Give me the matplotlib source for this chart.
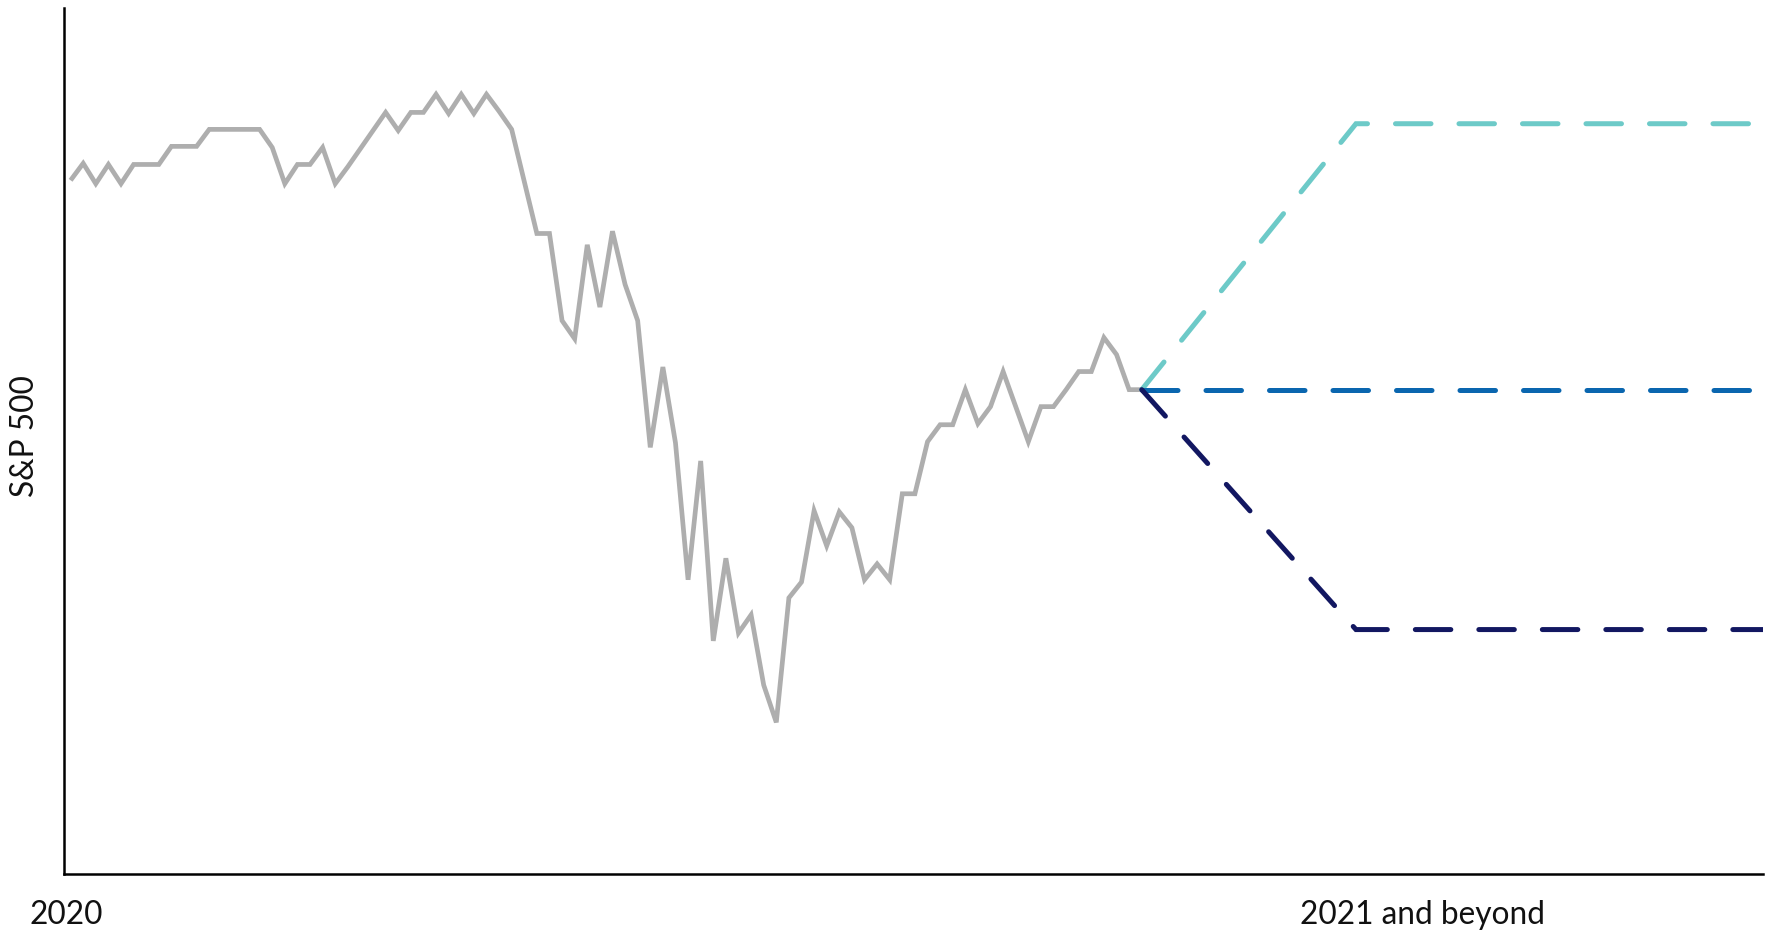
import matplotlib
matplotlib.use("Agg")
import matplotlib.pyplot as plt
import numpy as np

plt.rcParams['font.family'] = ['Lato', 'DejaVu Sans']

# ---- data (relative S&P 500 level) ----
history_y = [613, 628, 610, 627, 610, 627, 627, 627, 643, 643,
             643, 658, 658, 658, 658, 658, 642, 610, 627, 627,
             642, 610, 625, 641, 657, 673, 657, 673, 673, 689,
             672, 689, 672, 689, 674, 658, 612, 566, 566, 489,
             473, 556, 501, 568, 521, 489, 377, 448, 381, 260,
             365, 206, 279, 213, 229, 167, 134, 244, 258, 321,
             290, 320, 306, 260, 274, 260, 336, 336, 382, 397,
             397, 428, 398, 413, 444, 413, 382, 413, 413, 428,
             444, 444, 474, 459, 428, 428]
history_x = list(range(len(history_y)))

proj_x = [85, 102, 134.3]
proj_up = [428, 663, 663]
proj_flat = [428, 428, 428]
proj_down = [428, 216, 216]

x_labels = ["2020", "2021 and beyond"]
y_label = "S&P 500"

# ---- figure ----
W, H = 1775, 934
fig = plt.figure(figsize=(W / 100, H / 100), dpi=100)
ax = fig.add_axes([64.3 / W, 1 - 874 / H, (1763 - 64.3) / W, (874 - 8.3) / H])

ax.plot(history_x, history_y, color="#AEAEAE", lw=3.4,
        solid_joinstyle="miter", solid_capstyle="butt", zorder=2)

lw_d = 3.6
dash = (0, (7.1, 5.6))
ax.plot(proj_x, proj_up, color="#6DCAC8", lw=lw_d, linestyle=dash,
        dash_capstyle="round", dash_joinstyle="miter", zorder=3)
ax.plot(proj_x, proj_flat, color="#0A66AF", lw=lw_d, linestyle=dash,
        dash_capstyle="round", zorder=3)
ax.plot(proj_x, proj_down, color="#121761", lw=lw_d, linestyle=dash,
        dash_capstyle="round", dash_joinstyle="miter", zorder=4)

ax.set_xlim(-0.5, 134.3)
ax.set_ylim(0, 765)
ax.set_xticks([])
ax.set_yticks([])
for s in ["top", "right"]:
    ax.spines[s].set_visible(False)
for s in ["left", "bottom"]:
    ax.spines[s].set_linewidth(1.8)
    ax.spines[s].set_color("black")

fs = 22.8
fig.text(30 / W, 1 - 924 / H, x_labels[0], fontsize=fs, ha="left",
         va="baseline", color="#111111")
fig.text(1422 / W, 1 - 924 / H, x_labels[1], fontsize=fs, ha="center",
         va="baseline", color="#111111")
fig.text(25 / W, 1 - 436 / H, y_label, fontsize=fs, rotation=90,
         ha="center", va="center", color="#111111")

fig.savefig("out.png", dpi=100)
